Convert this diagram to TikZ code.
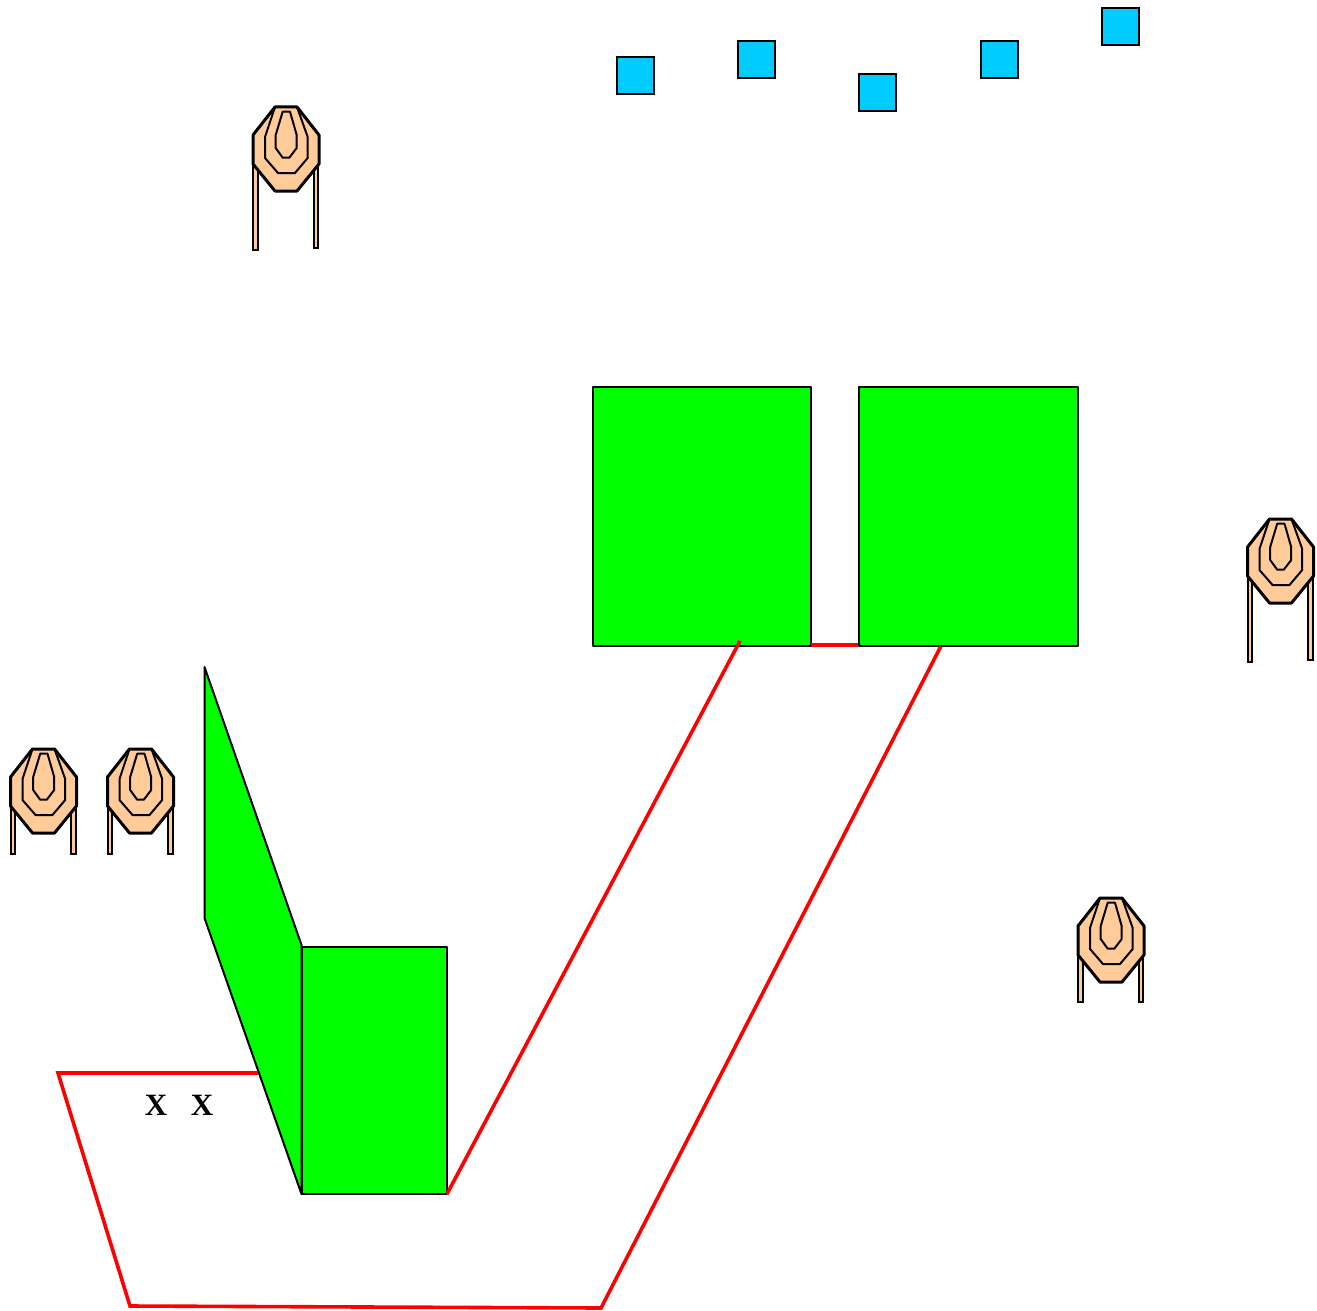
\documentclass[tikz,border=0pt]{standalone}
\usepackage{fontspec}
\setmainfont{Liberation Serif}
\definecolor{tgt}{HTML}{FFCC99}
\definecolor{sky}{HTML}{00CCFF}
\definecolor{grn}{HTML}{00FF00}
\definecolor{rd}{HTML}{FF0000}
\tikzset{
  wall/.style={draw=black,fill=grn,line width=2pt,line join=round},
  tape/.style={draw=rd,line width=3.6pt,line join=miter},
  popper/.style={draw=black,fill=sky,line width=2pt},
  tgtleg/.style={draw=black,fill=tgt,line width=2pt},
  tgtface/.style={draw=black,fill=tgt,line width=3pt,line join=round},
  tgtring/.style={draw=black,line width=2pt,line join=round},
  boxmark/.style={font=\bfseries\fontsize{31}{31}\selectfont,inner sep=0pt,text=black}
}
% #1,#2 top-left corner; #3 left leg bottom; #4 right leg bottom
\newcommand{\shoot}[4]{%
  \draw[tgtleg] (#1,#2+50) rectangle (#1+4.5,#3);
  \draw[tgtleg] (#1+60.5,#2+50) rectangle (#1+65,#4);
  \begin{scope}[shift={(#1,#2)}]
    \draw[tgtface] (22,0)--(44,0)--(66,28)--(66,57)--(44,84)--(22,84)--(0,57)--(0,28)--cycle;
    \draw[tgtring] (22,0)--(12,30)--(12,51)--(25,66)--(42,66)--(54.7,51)--(54.7,30)--(44,0);
    \draw[tgtring] (29.7,4.7)--(37,4.7)--(43.7,28)--(43.7,41)--(36.3,50.7)--(29.7,50.7)--(22.7,41)--(22.7,28)--cycle;
  \end{scope}}
\begin{document}
\begin{tikzpicture}[x=1pt,y=-1pt]
\useasboundingbox (0,0) rectangle (1317,1311);
% walls
\draw[wall] (592.5,387) rectangle (811,646);
\draw[wall] (859,387) rectangle (1078,646);
\draw[wall] (204.5,667)--(301.5,945)--(301.5,1194)--(204.5,918)--cycle;
\draw[wall] (301.5,947) rectangle (447,1194);
% fault lines
\coordinate (a1) at (258,1073);
\coordinate (a2) at (58,1073);
\coordinate (a3) at (130,1306);
\coordinate (a4) at (601,1308);
\coordinate (a5) at (941,646);
\coordinate (b1) at (447,1194);
\coordinate (b2) at (740,641);
\coordinate (c1) at (811,645);
\coordinate (c2) at (858,645);
\draw[tape] (a1)--(a2)--(a3)--(a4)--(a5);
\draw[tape] (b1)--(b2);
\draw[tape] (c1)--(c2);
% poppers
\draw[popper] (617,57) rectangle (654,94);
\draw[popper] (738,41) rectangle (775,78);
\draw[popper] (859,74) rectangle (896,111);
\draw[popper] (981,41) rectangle (1018,78);
\draw[popper] (1102,8) rectangle (1139,45);
% targets
\shoot{253}{107}{250}{248}
\shoot{1247.5}{519}{662}{660}
\shoot{10.5}{749}{854}{854}
\shoot{107.5}{749}{854}{854}
\shoot{1078}{898}{1002}{1002}
% marks
\node[boxmark] (x1) at (156,1105) {X};
\node[boxmark] (x2) at (202,1105) {X};
\end{tikzpicture}
\end{document}
